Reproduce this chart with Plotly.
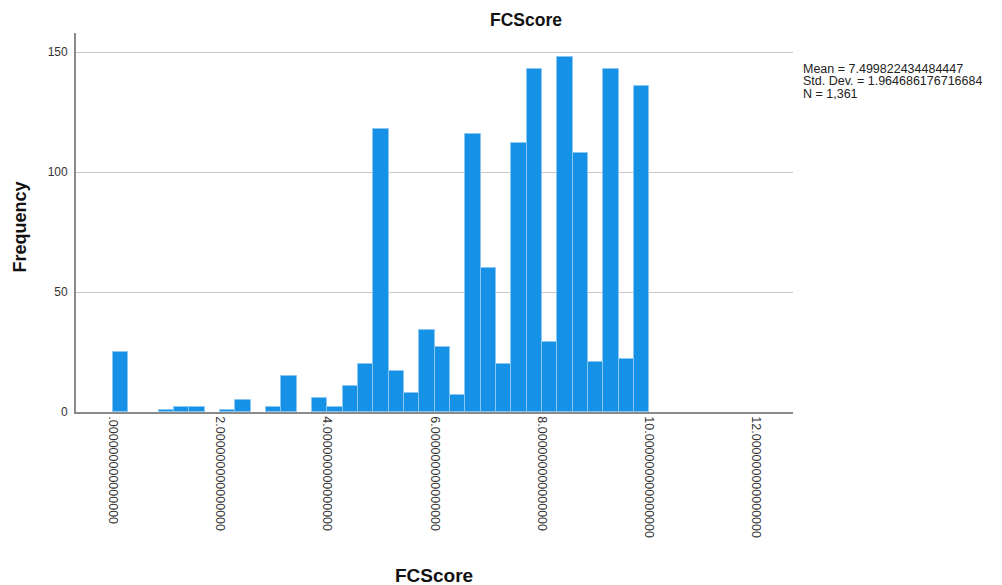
import plotly.graph_objects as go

# Histogram of FCScore: 35 equal bins spanning 0..10
bin_start = 0.0
bin_width = 10.0 / 35
counts = [25, 0, 0, 1, 2, 2, 0, 1, 5, 0, 2, 15, 0, 6, 2, 11, 20, 118, 17, 8,
          34, 27, 7, 116, 60, 20, 112, 143, 29, 148, 108, 21, 143, 22, 136]

x_tick_vals = [0, 2, 4, 6, 8, 10, 12]
x_tick_text = [".000000000000000", "2.000000000000000", "4.000000000000000",
               "6.000000000000000", "8.000000000000000", "10.000000000000000",
               "12.000000000000000"]
y_tick_vals = [0, 50, 100, 150]

stats_lines = ["Mean = 7.499822434484447",
               "Std. Dev. = 1.964686176716684",
               "N = 1,361"]

# Empty bins are skipped so no outline is drawn along the baseline
centers = [bin_start + (i + 0.5) * bin_width for i, c in enumerate(counts) if c > 0]
heights = [c for c in counts if c > 0]

fig = go.Figure()
fig.add_trace(go.Bar(
    x=centers, y=heights, width=bin_width,
    marker=dict(color="#1592e6", line=dict(color="#8cc6f2", width=1)),
    hoverinfo="x+y",
))

W, H = 1002, 585
L, R, T, B = 76, 793, 33, 412  # plot area in pixels

def paper_x(px):
    return (px - L) / (R - L)

def paper_y(py):
    return (B - py) / (B - T)

font_family = "Liberation Sans, Arial, sans-serif"

fig.update_layout(
    width=W, height=H,
    margin=dict(l=L, r=W - R, t=T, b=H - B),
    plot_bgcolor="white", paper_bgcolor="white",
    showlegend=False,
    bargap=0,
    font=dict(family=font_family, color="#222"),
    title=dict(text="<b>FCScore</b>", x=526 / W, xref="container",
               xanchor="center", y=1 - 19.5 / H, yanchor="middle",
               font=dict(size=17.5, color="#111")),
    xaxis=dict(range=[-0.684, 12.68], tickvals=x_tick_vals, ticktext=x_tick_text,
               tickangle=90, tickfont=dict(size=12.5, color="#333"),
               showgrid=False, zeroline=False, showline=True,
               linecolor="#8a8a8a", linewidth=1.6, ticks=""),
    yaxis=dict(range=[0, (B - T) / 2.4], tickvals=y_tick_vals,
               tickfont=dict(size=12, color="#333"),
               showgrid=True, gridcolor="#c8c8c8", gridwidth=1,
               zeroline=False, showline=True, linecolor="#8a8a8a",
               linewidth=1.8, ticks="", ticklabelstandoff=4),
)

# Axis titles
fig.add_annotation(text="<b>FCScore</b>", xref="paper", yref="paper",
                   x=paper_x(434), y=paper_y(575), xanchor="center",
                   yanchor="middle", showarrow=False,
                   font=dict(size=19, color="#111"))
fig.add_annotation(text="<b>Frequency</b>", xref="paper", yref="paper",
                   x=paper_x(19.5), y=paper_y(227), xanchor="center",
                   yanchor="middle", textangle=-90, showarrow=False,
                   font=dict(size=18, color="#111"))

# Summary statistics block
for i, line in enumerate(stats_lines):
    fig.add_annotation(text=line, xref="paper", yref="paper",
                       x=paper_x(801), y=paper_y(68.5 + 12.8 * i),
                       xanchor="left", yanchor="middle", showarrow=False,
                       font=dict(size=12.5, color="#222"))

fig.write_html("out.html")
